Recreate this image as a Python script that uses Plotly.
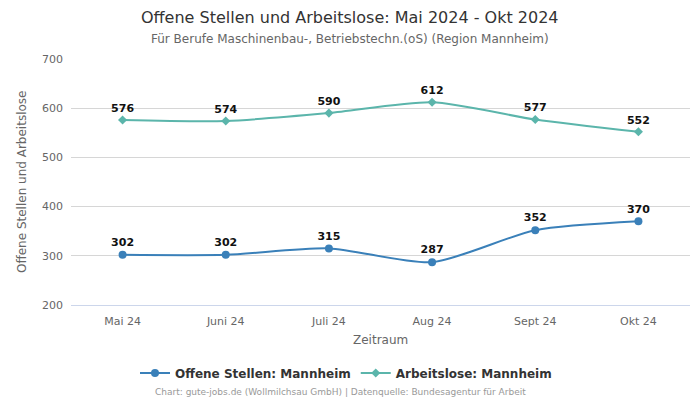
import plotly.graph_objects as go

months = ["Mai 24", "Juni 24", "Juli 24", "Aug 24", "Sept 24", "Okt 24"]
offene = [302, 302, 315, 287, 352, 370]
arbeitslose = [576, 574, 590, 612, 577, 552]

blue = "#3a80b9"
teal = "#5bb5ab"
font_reg = "DejaVu Sans, sans-serif"

fig = go.Figure()
fig.add_trace(go.Scatter(
    x=months, y=offene, name="Offene Stellen: Mannheim",
    mode="lines+markers+text", line=dict(color=blue, width=2, shape="spline", smoothing=0.7),
    marker=dict(symbol="circle", size=8, color=blue),
    text=[str(v) for v in offene], textposition="top center",
    textfont=dict(family=font_reg, size=11, color="#111111", weight="bold"),
))
fig.add_trace(go.Scatter(
    x=months, y=arbeitslose, name="Arbeitslose: Mannheim",
    mode="lines+markers+text", line=dict(color=teal, width=2, shape="spline", smoothing=0.7),
    marker=dict(symbol="diamond", size=7, color=teal),
    text=[str(v) for v in arbeitslose], textposition="top center",
    textfont=dict(family=font_reg, size=11, color="#111111", weight="bold"),
))

# page has an 8px body margin, so the figure is shifted; compensate in margins
fig.update_layout(
    width=700, height=400,
    margin=dict(l=63, r=18, t=51, b=103, autoexpand=False),
    paper_bgcolor="white", plot_bgcolor="white",
    xaxis=dict(range=[-0.5, 5.5], showgrid=False, showline=True, linecolor="#ccd6eb",
               tickfont=dict(family=font_reg, size=11, color="#666666"), ticks="", automargin=False,
               ticklabelstandoff=6),
    yaxis=dict(range=[200, 700], dtick=100, gridcolor="#d6d6d6", zeroline=False, automargin=False,
               tickfont=dict(family=font_reg, size=11, color="#666666"), ticksuffix="  "),
    legend=dict(orientation="h", x=(346 - 71) / 619, xanchor="center", y=(305 - 373) / 246, yanchor="middle",
                font=dict(family=font_reg, size=12, color="#333333", weight="bold")),
    showlegend=True,
)
ann = [
    dict(text="Offene Stellen und Arbeitslose: Mai 2024 - Okt 2024", x=350, y=17, size=16, color="#333333"),
    dict(text="Für Berufe Maschinenbau-, Betriebstechn.(oS) (Region Mannheim)", x=350, y=39, size=12, color="#666666"),
    dict(text="Zeitraum", x=380, y=340, size=12, color="#666666"),
    dict(text="Chart: gute-jobs.de (Wollmilchsau GmbH) | Datenquelle: Bundesagentur für Arbeit", x=340, y=392, size=9, color="#999999"),
]
for a in ann:
    fig.add_annotation(text=a["text"], xref="paper", yref="paper", x=(a["x"] - 71) / 619,
                       y=(305 - a["y"]) / 246, xanchor="center", yanchor="middle",
                       showarrow=False, font=dict(family=font_reg, size=a["size"], color=a["color"]))
fig.add_annotation(text="Offene Stellen und Arbeitslose", xref="paper", yref="paper",
                   x=(22 - 71) / 619, y=(305 - 182) / 246, xanchor="center", yanchor="middle",
                   textangle=-90, showarrow=False, font=dict(family=font_reg, size=12, color="#666666"))
fig.write_html("out.html")
